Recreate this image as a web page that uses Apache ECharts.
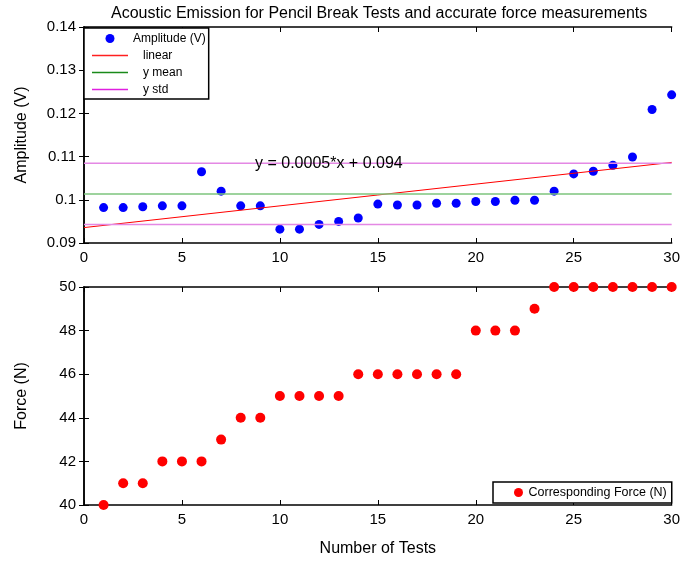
<!DOCTYPE html>
<html>
<head>
<meta charset="utf-8">
<script src="https://cdn.jsdelivr.net/npm/echarts@6/dist/echarts.min.js"></script>
<style>html,body{margin:0;padding:0;background:#fff}#c{width:683px;height:561px}</style>
</head>
<body>
<div id="c"></div>
<script>
const tests = [1,2,3,4,5,6,7,8,9,10,11,12,13,14,15,16,17,18,19,20,21,22,23,24,25,26,27,28,29,30];
const amplitude = [0.0982,0.0982,0.0984,0.0986,0.0986,0.1065,0.1020,0.0986,0.0986,0.0932,
                   0.0932,0.0943,0.0950,0.0958,0.0990,0.0988,0.0988,0.0992,0.0992,0.0996,
                   0.0996,0.0999,0.0999,0.1020,0.1060,0.1066,0.1080,0.1099,0.1209,0.1243];
const force = [40,41,41,42,42,42,43,44,44,45,45,45,45,46,46,46,46,46,46,48,48,48,49,50,50,50,50,50,50,50];
const ampTicks = [0.09,0.10,0.11,0.12,0.13,0.14];
const forceTicks = [40,42,44,46,48,50];
const xTicks = [0,5,10,15,20,25,30];
const fitLabel = 'y = 0.0005*x + 0.094';

// statistics from the data
const n = amplitude.length;
const mean = amplitude.reduce((a,b)=>a+b,0)/n;
const std = Math.sqrt(amplitude.reduce((a,b)=>a+(b-mean)*(b-mean),0)/(n-1));
const mx = tests.reduce((a,b)=>a+b,0)/n;
let sxy=0, sxx=0;
for (let i=0;i<n;i++){ sxy += (tests[i]-mx)*(amplitude[i]-mean); sxx += (tests[i]-mx)*(tests[i]-mx); }
const slope = sxy/sxx, intercept = mean - slope*mx;
const xMin = xTicks[0], xMax = xTicks[xTicks.length-1];

const FONT = 'Liberation Sans, Arial, Helvetica, sans-serif';
const LINE_ICON = 'path://M0,0L36,0L36,1.4L0,1.4Z';
const axisLine = {show:true, lineStyle:{color:'#000', width:1.5}};
function xAx(gi, pos, labels, name){
  return {type:'value', gridIndex:gi, position:pos, min:xMin, max:xMax, interval:5,
    axisLine:axisLine, axisTick:{show:true, inside:true, length:5, lineStyle:{color:'#000'}},
    axisLabel:{show:labels, margin:7, color:'#000', fontSize:15, fontFamily:FONT},
    splitLine:{show:false}, name:name||'', nameLocation:'middle', nameGap:36,
    nameTextStyle:{color:'#000', fontSize:16, fontFamily:FONT}};
}
function yAx(gi, pos, labels, ticks, iv, name){
  return {type:'value', gridIndex:gi, position:pos, min:ticks[0], max:ticks[ticks.length-1], interval:iv,
    axisLine:axisLine, axisTick:{show:true, inside:true, length:5, lineStyle:{color:'#000'}},
    axisLabel:{show:labels, margin:8, color:'#000', fontSize:15, fontFamily:FONT},
    splitLine:{show:false}, name:name||'', nameLocation:'middle', nameGap:54,
    nameTextStyle:{color:'#000', fontSize:16, fontFamily:FONT}};
}

const chart = echarts.init(document.getElementById('c'));
chart.setOption({
  animation:false,
  backgroundColor:'#fff',
  title:{text:'Acoustic Emission for Pencil Break Tests and accurate force measurements',
    left:111, top:6, padding:0,
    textStyle:{fontSize:16, fontWeight:'normal', color:'#000', fontFamily:FONT}},
  grid:[{left:84, right:9, top:27, height:216},{left:84, right:9, top:287, height:218}],
  xAxis:[xAx(0,'bottom',true), xAx(0,'top',false), xAx(1,'bottom',true,'Number of Tests'), xAx(1,'top',false)],
  yAxis:[yAx(0,'left',true,ampTicks,0.01,'Amplitude (V)'), yAx(0,'right',false,ampTicks,0.01),
         yAx(1,'left',true,forceTicks,2,'Force (N)'), yAx(1,'right',false,forceTicks,2)],
  legend:[{
    data:['Amplitude (V)',
          {name:'linear',icon:LINE_ICON, itemStyle:{color:'#ff2020'}},
          {name:'y mean',icon:LINE_ICON, itemStyle:{color:'#1a8a1a'}},
          {name:'y std',icon:LINE_ICON, itemStyle:{color:'#e020e0'}}],
    orient:'vertical', left:84, top:28, itemWidth:36, itemHeight:9, itemGap:4,
    symbolKeepAspect:true,
    padding:[4,3,3,8], backgroundColor:'#fff', borderColor:'#000', borderWidth:1.5, borderRadius:0,
    formatter:name => name==='Amplitude (V)' ? name : '   '+name,
    textStyle:{fontSize:12, color:'#000', fontFamily:FONT, lineHeight:13}
  },{
    data:['Corresponding Force (N)'],
    left:493, top:482, itemWidth:10, itemHeight:9,
    padding:[4,5,4,21], backgroundColor:'#fff', borderColor:'#000', borderWidth:1.5, borderRadius:0,
    textStyle:{fontSize:12.5, color:'#000', fontFamily:FONT}
  }],
  graphic:[{type:'text', left:255, top:156, z:10,
    style:{text:fitLabel, fontSize:16, fill:'#000', fontFamily:FONT}}],
  series:[
    {name:'Amplitude (V)', type:'scatter', xAxisIndex:0, yAxisIndex:0, symbolSize:9, clip:false,
     itemStyle:{color:'#0000ff', opacity:1}, data:tests.map((t,i)=>[t, amplitude[i]])},
    {name:'linear', type:'line', xAxisIndex:0, yAxisIndex:0, symbol:'none', showSymbol:false, color:'#ff0000',
     lineStyle:{color:'#ff0000', width:1}, data:[[xMin, intercept+slope*xMin],[xMax, intercept+slope*xMax]]},
    {name:'y mean', type:'line', xAxisIndex:0, yAxisIndex:0, symbol:'none', showSymbol:false, color:'#4caf4c',
     lineStyle:{color:'#7cc47c', width:1.5}, data:[[xMin, mean],[xMax, mean]]},
    {name:'y std', type:'line', xAxisIndex:0, yAxisIndex:0, symbol:'none', showSymbol:false, color:'#e060e0',
     lineStyle:{color:'#e488e4', width:1.5}, data:[[xMin, mean+std],[xMax, mean+std]]},
    {name:'y std', type:'line', xAxisIndex:0, yAxisIndex:0, symbol:'none', showSymbol:false, color:'#e060e0',
     lineStyle:{color:'#e488e4', width:1.5}, data:[[xMin, mean-std],[xMax, mean-std]]},
    {name:'Corresponding Force (N)', type:'scatter', xAxisIndex:2, yAxisIndex:2, symbolSize:10, clip:false,
     itemStyle:{color:'#ff0000', opacity:1}, data:tests.map((t,i)=>[t, force[i]])}
  ]
});
</script>
</body>
</html>
